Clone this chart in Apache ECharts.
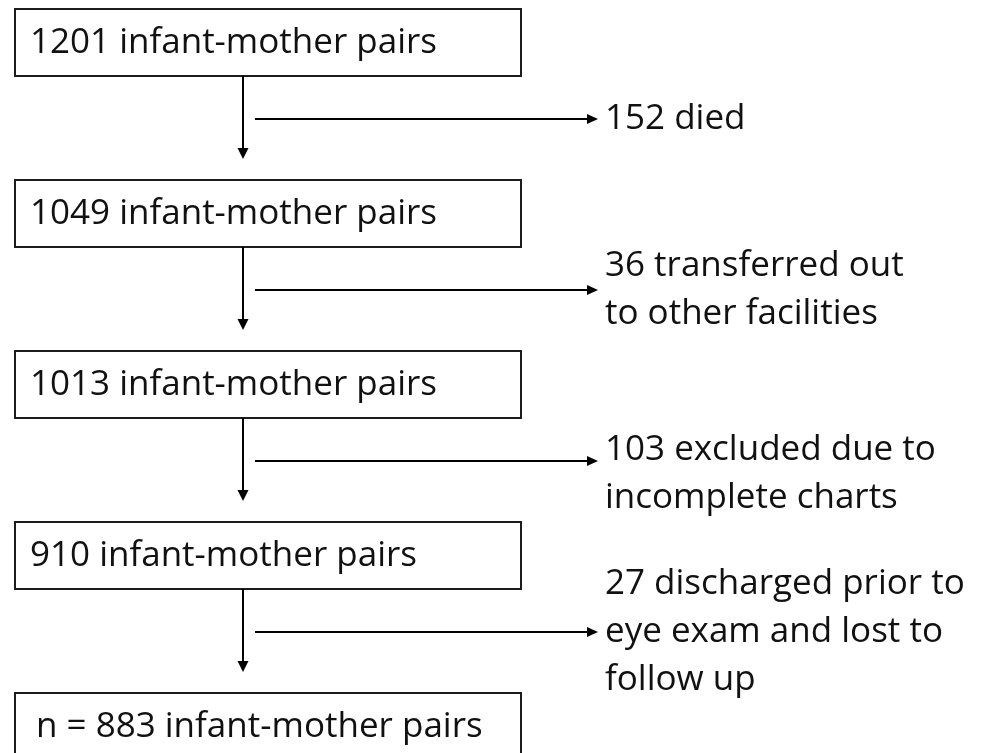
<!DOCTYPE html>
<html>
<head>
<meta charset="utf-8">
<script src="https://cdn.jsdelivr.net/npm/echarts@6/dist/echarts.min.js"></script>
<style>
  html, body { margin: 0; padding: 0; background: #fff; }
  #chart { width: 982px; height: 753px; }
</style>
</head>
<body>
<div id="chart"></div>
<script>
// flow data
var stageCounts = [1201, 1049, 1013, 910, 883]
var stagePrefix = ['', '', '', '', 'n = ']
var exclusionCounts = [152, 36, 103, 27]
var exclusionReasons = [
  'died',
  'transferred out\nto other facilities',
  'excluded due to\nincomplete charts',
  'discharged prior to\neye exam and lost to\nfollow up'
]

// layout (pixels, the hidden axes run 0..982 / 0..753)
var boxLeft = 15
var boxRight = 521
var boxH = 67
var rowStep = 171
var rowTop0 = 9
var mainX = 243
var branchStart = 255
var branchTip = 598
var sideTextX = 605
var lineGap = 48
var sideShift = [0, -24, -11, -48]
var font = '"Open Sans", sans-serif'
var ink = '#111'

function rowTop (i) {
  return rowTop0 + i * rowStep
}

var chart = echarts.init(document.getElementById('chart'))

chart.setOption({
  animation: false,
  grid: { left: 0, right: 0, top: 0, bottom: 0 },
  xAxis: { type: 'value', min: 0, max: 982, show: false },
  yAxis: { type: 'value', min: 0, max: 753, inverse: true, show: false },
  series: [
    {
      name: 'stages',
      type: 'custom',
      coordinateSystem: 'cartesian2d',
      data: stageCounts.map(function (n, i) { return [i, n] }),
      renderItem: function (params, api) {
        var i = api.value(0)
        var n = api.value(1)
        var top = rowTop(i)
        var p1 = api.coord([boxLeft, top])
        var p2 = api.coord([boxRight, top + boxH])
        var t = api.coord([i === 4 ? 36 : 30, top + boxH / 2 + 1])
        return {
          type: 'group',
          children: [
            {
              type: 'rect',
              shape: { x: p1[0], y: p1[1], width: p2[0] - p1[0], height: p2[1] - p1[1] },
              style: { fill: '#fff', stroke: '#1c1c1c', lineWidth: 2 }
            },
            {
              type: 'text',
              style: {
                text: stagePrefix[i] + n + ' infant-mother pairs',
                x: t[0],
                y: t[1],
                font: '35px ' + font,
                fill: ink,
                textAlign: 'left',
                textVerticalAlign: 'middle'
              }
            }
          ]
        }
      }
    },
    {
      name: 'exclusions',
      type: 'custom',
      coordinateSystem: 'cartesian2d',
      data: exclusionCounts.map(function (n, i) { return [i, n] }),
      renderItem: function (params, api) {
        var i = api.value(0)
        var n = api.value(1)
        var top = rowTop(i)
        var vTop = api.coord([mainX, top + boxH])
        var vTip = api.coord([mainX, rowTop(i + 1) - 21])
        var hY = top + 110
        var hStart = api.coord([branchStart, hY])
        var hTip = api.coord([branchTip, hY])
        var lines = (n + ' ' + exclusionReasons[i]).split('\n')
        var children = [
          {
            type: 'line',
            shape: { x1: vTop[0], y1: vTop[1], x2: vTip[0], y2: vTip[1] - 8 },
            style: { stroke: '#000', lineWidth: 2 }
          },
          {
            type: 'polygon',
            shape: { points: [[vTip[0] - 5.5, vTip[1] - 11], [vTip[0] + 5.5, vTip[1] - 11], [vTip[0], vTip[1]]] },
            style: { fill: '#000' }
          },
          {
            type: 'line',
            shape: { x1: hStart[0], y1: hStart[1], x2: hTip[0] - 8, y2: hTip[1] },
            style: { stroke: '#000', lineWidth: 2 }
          },
          {
            type: 'polygon',
            shape: { points: [[hTip[0] - 11, hTip[1] - 5], [hTip[0] - 11, hTip[1] + 5], [hTip[0], hTip[1]]] },
            style: { fill: '#000' }
          }
        ]
        lines.forEach(function (s, j) {
          var p = api.coord([sideTextX, hY + sideShift[i] + j * lineGap])
          children.push({
            type: 'text',
            style: {
              text: s,
              x: p[0],
              y: p[1],
              font: '35px ' + font,
              fill: ink,
              textAlign: 'left',
              textVerticalAlign: 'middle'
            }
          })
        })
        return { type: 'group', children: children }
      }
    }
  ]
})
</script>
</body>
</html>
